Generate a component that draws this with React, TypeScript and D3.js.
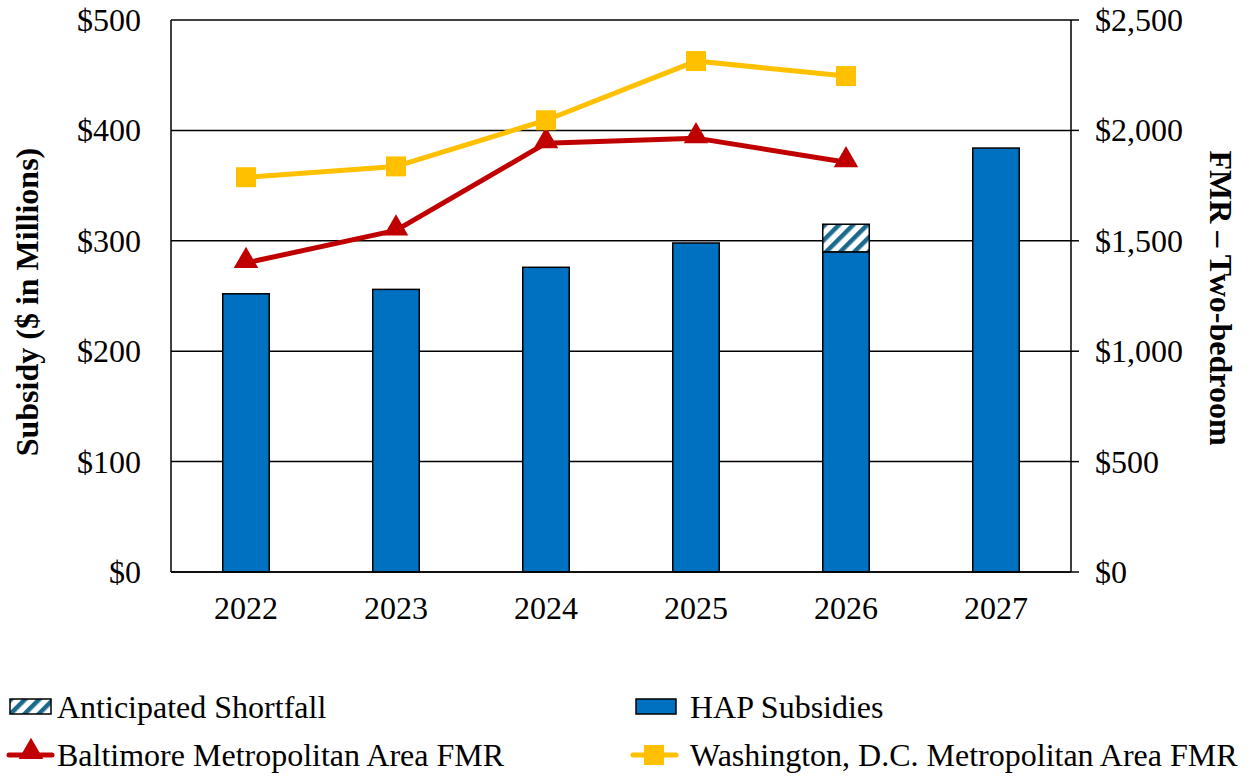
import React from "react";
import * as d3 from "d3";

const years = ["2022", "2023", "2024", "2025", "2026", "2027"];
const hapSubsidies = [252, 256, 276, 298, 290, 384];
const shortfall = [0, 0, 0, 0, 25, 0];
const baltimoreFMR = [1400, 1547, 1942, 1965, 1856];
const washingtonFMR = [1788, 1837, 2046, 2314, 2246];
const leftTicks = [0, 100, 200, 300, 400, 500];
const rightTicks = [0, 500, 1000, 1500, 2000, 2500];

const W = 1250, H = 776;
const L = 171, R = 1071, T = 20, B = 572;
const FONT = "'Liberation Serif', 'Times New Roman', serif";
const FS = 32;

export default function App() {
  const x = d3.scaleBand<string>().domain(years).range([L, R]).paddingInner(0.69).paddingOuter(0.345);
  const yL = d3.scaleLinear().domain([0, 500]).range([B, T]);
  const yR = d3.scaleLinear().domain([0, 2500]).range([B, T]);
  const cx = (y: string) => (x(y) as number) + x.bandwidth() / 2;
  const lineGen = d3.line<number>().x((_, i) => cx(years[i])).y((d) => yR(d));
  const tri = d3.symbol().type(d3.symbolTriangle).size(260)();
  const sq = d3.symbol().type(d3.symbolSquare).size(400)();

  return (
    <svg width={W} height={H} style={{ position: "absolute", left: 0, top: 0, background: "#fff" }} fontFamily={FONT}>
      <defs>
        <pattern id="hatch" patternUnits="userSpaceOnUse" width="10" height="10" patternTransform="rotate(45)">
          <rect width="10" height="10" fill="#fff" />
          <rect x="0" y="0" width="4.5" height="10" fill="#1B6A8E" />
        </pattern>
      </defs>
      {leftTicks.map((t) => (
        <line key={"g" + t} x1={L} x2={R} y1={yL(t)} y2={yL(t)} stroke="#000" strokeWidth={1.5} />
      ))}
      {years.map((y, i) => (
        <g key={"b" + y}>
          <rect x={x(y)} y={yL(hapSubsidies[i])} width={x.bandwidth()} height={yL(0) - yL(hapSubsidies[i])} fill="#0070C0" stroke="#000" strokeWidth={1.5} />
          {shortfall[i] > 0 && (
            <rect x={x(y)} y={yL(hapSubsidies[i] + shortfall[i])} width={x.bandwidth()} height={yL(hapSubsidies[i]) - yL(hapSubsidies[i] + shortfall[i])} fill="url(#hatch)" stroke="#000" strokeWidth={1.5} />
          )}
        </g>
      ))}
      <line x1={L} x2={L} y1={T} y2={B} stroke="#000" strokeWidth={1.5} />
      <line x1={R} x2={R} y1={T} y2={B} stroke="#000" strokeWidth={1.5} />
      <line x1={L} x2={R} y1={B} y2={B} stroke="#000" strokeWidth={1.5} />
      {rightTicks.map((t) => (
        <line key={"rt" + t} x1={R} x2={R + 8} y1={yR(t)} y2={yR(t)} stroke="#000" strokeWidth={1.5} />
      ))}
      <path d={lineGen(baltimoreFMR) as string} fill="none" stroke="#C00000" strokeWidth={5} strokeLinejoin="round" />
      <path d={lineGen(washingtonFMR) as string} fill="none" stroke="#FFC000" strokeWidth={5} strokeLinejoin="round" />
      {baltimoreFMR.map((v, i) => (
        <path key={"bm" + i} d={tri as string} transform={`translate(${cx(years[i])},${yR(v) - 2})`} fill="#C00000" />
      ))}
      {washingtonFMR.map((v, i) => (
        <path key={"wm" + i} d={sq as string} transform={`translate(${cx(years[i])},${yR(v)})`} fill="#FFC000" />
      ))}
      {leftTicks.map((t) => (
        <text key={"lt" + t} x={141} y={yL(t)} textAnchor="end" dominantBaseline="central" fontSize={FS}>{"$" + d3.format(",")(t)}</text>
      ))}
      {rightTicks.map((t) => (
        <text key={"rl" + t} x={1095} y={yR(t)} textAnchor="start" dominantBaseline="central" fontSize={FS}>{"$" + d3.format(",")(t)}</text>
      ))}
      {years.map((y) => (
        <text key={"xl" + y} x={cx(y)} y={608} textAnchor="middle" dominantBaseline="central" fontSize={FS}>{y}</text>
      ))}
      <text transform={`translate(27,${(T + B) / 2 + 6}) rotate(-90)`} textAnchor="middle" dominantBaseline="central" fontSize={FS} fontWeight="bold">Subsidy ($ in Millions)</text>
      <text transform={`translate(1221,${(T + B) / 2 + 2}) rotate(90)`} textAnchor="middle" dominantBaseline="central" fontSize={FS} fontWeight="bold">FMR – Two-bedroom</text>
      <g fontSize={FS}>
        <rect x={10} y={699} width={41} height={15} fill="url(#hatch)" stroke="#000" strokeWidth={1.5} />
        <text x={57} y={707} dominantBaseline="central">Anticipated Shortfall</text>
        <rect x={636} y={699} width={40} height={15} fill="#0070C0" stroke="#000" strokeWidth={1.5} />
        <text x={690} y={707} dominantBaseline="central">HAP Subsidies</text>
        <line x1={9} x2={52} y1={755} y2={755} stroke="#C00000" strokeWidth={5} strokeLinecap="round" />
        <path d={tri as string} transform="translate(31,752)" fill="#C00000" />
        <text x={57} y={755} dominantBaseline="central">Baltimore Metropolitan Area FMR</text>
        <line x1={633} x2={676} y1={755} y2={755} stroke="#FFC000" strokeWidth={5} strokeLinecap="round" />
        <path d={sq as string} transform="translate(654,755)" fill="#FFC000" />
        <text x={690} y={755} dominantBaseline="central">Washington, D.C. Metropolitan Area FMR</text>
      </g>
    </svg>
  );
}
